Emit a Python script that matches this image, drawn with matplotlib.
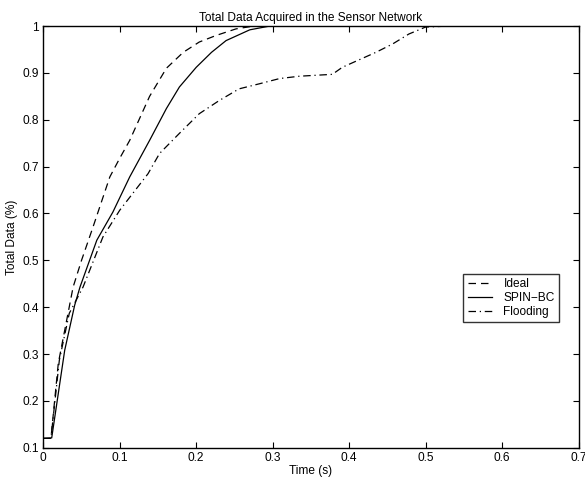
import matplotlib
matplotlib.use("Agg")
import matplotlib.pyplot as plt

plt.rcParams['font.family'] = ['Liberation Sans', 'DejaVu Sans']

ideal_x = [0.0, 0.010, 0.0196, 0.039, 0.050, 0.065, 0.087, 0.100, 0.113, 0.139,
           0.161, 0.183, 0.204, 0.226, 0.252, 0.275, 0.53]
ideal_y = [0.12, 0.12, 0.280, 0.443, 0.500, 0.571, 0.678, 0.718, 0.756, 0.850,
           0.910, 0.944, 0.966, 0.980, 0.994, 1.0, 1.0]

spin_x = [0.0, 0.011, 0.028, 0.041, 0.048, 0.070, 0.091, 0.113, 0.139, 0.161,
          0.178, 0.200, 0.220, 0.239, 0.270, 0.296, 0.53]
spin_y = [0.12, 0.121, 0.308, 0.404, 0.443, 0.543, 0.603, 0.678, 0.756, 0.824,
          0.870, 0.912, 0.944, 0.969, 0.992, 1.0, 1.0]

flood_x = [0.0, 0.010, 0.021, 0.034, 0.052, 0.078, 0.100, 0.137, 0.152, 0.178,
           0.204, 0.230, 0.256, 0.283, 0.309, 0.335, 0.378, 0.391, 0.413, 0.435,
           0.457, 0.478, 0.500, 0.53]
flood_y = [0.12, 0.12, 0.287, 0.387, 0.443, 0.550, 0.607, 0.685, 0.728, 0.771,
           0.813, 0.841, 0.866, 0.877, 0.888, 0.893, 0.897, 0.912, 0.928, 0.944,
           0.962, 0.983, 0.998, 1.0]

xticks = [0, 0.1, 0.2, 0.3, 0.4, 0.5, 0.6, 0.7]
xticklabels = ['0', '0.1', '0.2', '0.3', '0.4', '0.5', '0.6', '0.7']
yticks = [0.1, 0.2, 0.3, 0.4, 0.5, 0.6, 0.7, 0.8, 0.9, 1.0]
yticklabels = ['0.1', '0.2', '0.3', '0.4', '0.5', '0.6', '0.7', '0.8', '0.9', '1']

fig = plt.figure(figsize=(5.85, 4.83), dpi=100)
ax = fig.add_axes([0.074, 0.073, 0.915, 0.873])

lw = 0.9
ax.plot(ideal_x, ideal_y, color='black', lw=lw, linestyle=(0, (6, 4)), label='Ideal')
ax.plot(spin_x, spin_y, color='black', lw=lw, linestyle='-', label='SPIN\u2212BC')
ax.plot(flood_x, flood_y, color='black', lw=lw, linestyle=(0, (6, 3, 1, 3)), label='Flooding')

ax.set_xlim(0, 0.7)
ax.set_ylim(0.1, 1.0)
ax.set_xticks(xticks)
ax.set_xticklabels(xticklabels)
ax.set_yticks(yticks)
ax.set_yticklabels(yticklabels)
ax.tick_params(direction='in', top=True, right=True, length=4, width=0.8,
               labelsize=8.6, pad=3)
for s in ax.spines.values():
    s.set_linewidth(1.0)

ax.set_title('Total Data Acquired in the Sensor Network', fontsize=8.6, pad=4)
ax.set_xlabel('Time (s)', fontsize=8.6, labelpad=1)
ax.set_ylabel('Total Data (%)', fontsize=8.6, labelpad=3)

leg = ax.legend(loc='upper left', bbox_to_anchor=(0.785, 0.412), fontsize=8.6,
                frameon=True, fancybox=False, handlelength=2.0, borderpad=0.35,
                labelspacing=0.15, handletextpad=1.0, borderaxespad=0)
leg.get_frame().set_edgecolor('black')
leg.get_frame().set_linewidth(1.0)

fig.savefig('out.png', dpi=100)
